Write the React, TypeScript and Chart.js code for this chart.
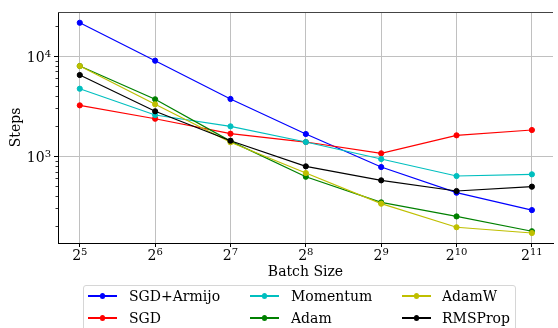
import React, { useEffect, useRef } from 'react';
import { Chart, registerables } from 'chart.js';
Chart.register(...registerables);

const batchExponents = [5, 6, 7, 8, 9, 10, 11];
const xTickBase = '2';
const xTickExponents = ['5', '6', '7', '8', '9', '10', '11'];
const yTickValues = [1000, 10000];
const yTickBase = '10';
const yTickExponents = ['3', '4'];
const yMinorValues = [200, 300, 400, 500, 600, 700, 800, 900, 2000, 3000, 4000, 5000, 6000, 7000, 8000, 9000, 20000];

const seriesNames = ['SGD+Armijo', 'SGD', 'Momentum', 'Adam', 'AdamW', 'RMSProp'];
const seriesColors = ['#0000ff', '#ff0000', '#00bfbf', '#008000', '#bfbf00', '#000000'];
const sgdArmijo = [21500, 8980, 3720, 1660, 776, 430, 288];
const sgd = [3210, 2360, 1672, 1380, 1064, 1610, 1820];
const momentum = [4710, 2570, 1980, 1380, 933, 631, 656];
const adam = [7940, 3690, 1410, 621, 344, 249, 177];
const adamW = [7940, 3290, 1371, 676, 334, 194, 170];
const rmsProp = [6457, 2800, 1423, 788, 571, 447, 494];
const seriesValues = [sgdArmijo, sgd, momentum, adam, adamW, rmsProp];

const FONT = "'DejaVu Serif', serif";
const BASE_FONT = `14px ${FONT}`;
const EXP_FONT = `10px ${FONT}`;

const framePlugin = {
  id: 'frame',
  afterDraw(chart: any) {
    const { ctx, chartArea } = chart;
    const x = chart.scales.x;
    const y = chart.scales.y;
    ctx.save();
    ctx.strokeStyle = '#000';
    ctx.lineWidth = 0.8;
    ctx.beginPath();
    for (const v of yMinorValues) {
      const py = Math.round(y.getPixelForValue(v)) + 0.5;
      ctx.moveTo(chartArea.left - 2.5, py);
      ctx.lineTo(chartArea.left, py);
    }
    ctx.stroke();
    ctx.strokeStyle = '#444';
    ctx.lineWidth = 1;
    ctx.beginPath();
    ctx.moveTo(chartArea.left, chartArea.top + 0.5);
    ctx.lineTo(chartArea.right, chartArea.top + 0.5);
    ctx.stroke();

    // mathtext-like tick labels
    ctx.fillStyle = '#000';
    ctx.textBaseline = 'alphabetic';
    ctx.textAlign = 'left';
    batchExponents.forEach((v, i) => {
      const px = x.getPixelForValue(v);
      ctx.font = BASE_FONT;
      const wb = ctx.measureText(xTickBase).width;
      ctx.font = EXP_FONT;
      const we = ctx.measureText(xTickExponents[i]).width;
      const start = px - (wb + we) / 2;
      const baseY = chartArea.bottom + 17;
      ctx.font = BASE_FONT;
      ctx.fillText(xTickBase, start, baseY);
      ctx.font = EXP_FONT;
      ctx.fillText(xTickExponents[i], start + wb, baseY - 5);
    });
    yTickValues.forEach((v, i) => {
      const py = y.getPixelForValue(v);
      ctx.font = EXP_FONT;
      const we = ctx.measureText(yTickExponents[i]).width;
      ctx.font = BASE_FONT;
      const wb = ctx.measureText(yTickBase).width;
      const right = chartArea.left - 7;
      const baseY = py + 5.7;
      ctx.fillText(yTickBase, right - we - wb, baseY);
      ctx.font = EXP_FONT;
      ctx.fillText(yTickExponents[i], right - we, baseY - 5);
    });
    ctx.restore();
  },
};

export default function App() {
  const ref = useRef<HTMLCanvasElement | null>(null);
  useEffect(() => {
    const datasets = seriesNames.map((name, i) => ({
      label: name,
      data: batchExponents.map((x, j) => ({ x, y: seriesValues[i][j] })),
      borderColor: seriesColors[i],
      backgroundColor: seriesColors[i],
      pointBackgroundColor: seriesColors[i],
      pointBorderColor: seriesColors[i],
      pointRadius: 2.6,
      pointBorderWidth: 1,
      borderWidth: 1.2,
      order: seriesNames.length - i,
    }));
    const chart = new Chart(ref.current as HTMLCanvasElement, {
      type: 'line',
      data: { datasets },
      plugins: [framePlugin],
      options: {
        animation: false,
        responsive: false,
        layout: { padding: { top: 12, left: 0, right: 0, bottom: 0 } },
        plugins: { legend: { display: false }, tooltip: { enabled: false } },
        scales: {
          x: {
            type: 'linear',
            min: 4.711,
            max: 11.28,
            afterBuildTicks: (s: any) => {
              s.ticks = batchExponents.map((v) => ({ value: v }));
            },
            afterFit: (s: any) => {
              s.height = 85;
            },
            ticks: {
              display: false,
            },
            grid: { color: '#c0c0c0', lineWidth: 1, tickColor: '#000', tickLength: 4 },
            border: { color: '#000', width: 1 },
            title: {
              display: true,
              text: 'Batch Size',
              color: '#000',
              font: { family: FONT, size: 14 },
              padding: { top: 0, bottom: 47 },
            },
          },
          y: {
            type: 'logarithmic',
            min: 135,
            max: 27540,
            afterBuildTicks: (s: any) => {
              s.ticks = yTickValues.map((v) => ({ value: v }));
            },
            afterFit: (s: any) => {
              s.width = 58;
            },
            ticks: {
              display: false,
            },
            grid: { color: '#c0c0c0', lineWidth: 1, tickColor: '#000', tickLength: 4 },
            border: { color: '#000', width: 1 },
            title: {
              display: true,
              text: 'Steps',
              color: '#000',
              font: { family: FONT, size: 14 },
              padding: { top: 8, bottom: 0 },
            },
          },
        },
      },
    } as any);
    return () => chart.destroy();
  }, []);

  const colX = [88, 250, 402];
  const textX = [129, 291, 442];
  const rowY = [296, 318];

  return (
    <div style={{ position: 'fixed', left: 0, top: 0, width: 558, height: 328, overflow: 'hidden', background: '#fff' }}>
      <canvas ref={ref} width={558} height={328} style={{ position: 'absolute', left: 0, top: 0, width: 558, height: 328 }} />
      <div
        style={{
          position: 'absolute',
          left: 83,
          top: 285,
          width: 433,
          height: 60,
          border: '1px solid #d6d6d6',
          borderRadius: 3,
          background: 'rgba(255,255,255,0.8)',
          boxSizing: 'border-box',
        }}
      />
      {seriesNames.map((name, i) => {
        const c = Math.floor(i / 2);
        const r = i % 2;
        return (
          <React.Fragment key={name}>
            <div style={{ position: 'absolute', left: colX[c], top: rowY[r] - 0.6, width: 29, height: 1.2, background: seriesColors[i] }} />
            <div
              style={{
                position: 'absolute',
                left: colX[c] + 14.5 - 2.6,
                top: rowY[r] - 2.6,
                width: 5.2,
                height: 5.2,
                borderRadius: '50%',
                background: seriesColors[i],
              }}
            />
            <div
              style={{
                position: 'absolute',
                left: textX[c],
                top: rowY[r] - 10,
                height: 20,
                lineHeight: '20px',
                fontFamily: FONT,
                fontSize: 14,
                color: '#000',
                whiteSpace: 'nowrap',
              }}
            >
              {name}
            </div>
          </React.Fragment>
        );
      })}
    </div>
  );
}
